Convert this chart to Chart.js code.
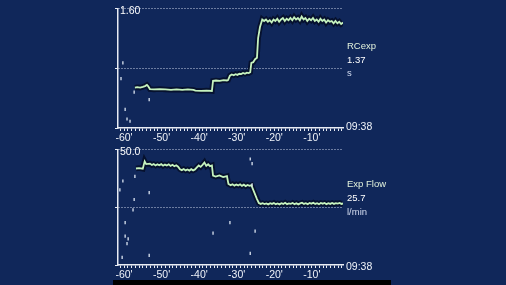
<!DOCTYPE html>
<html>
<head>
<meta charset="utf-8">
<script src="https://cdn.jsdelivr.net/npm/chart.js@4/dist/chart.umd.min.js"></script>
<style>
  html, body { margin: 0; padding: 0; background: #10275a; width: 506px; height: 285px; overflow: hidden; }
  canvas { position: absolute; left: 0; }
  .lbl { position: absolute; left: 347px; font-family: "Liberation Sans", Arial, sans-serif; font-size: 9.5px; line-height: 1; white-space: nowrap; }
  .hora { position: absolute; left: 346px; font-family: "Liberation Sans", Arial, sans-serif; font-size: 10.5px; line-height: 1; color: #eef2f8; }
  #faixa { position: absolute; left: 113px; top: 280px; width: 278px; height: 5px; background: #000; }
</style>
</head>
<body>
<canvas id="graficoRC" width="506" height="142" style="top:0"></canvas>
<canvas id="graficoFluxo" width="506" height="138" style="top:141px"></canvas>

<div class="lbl" style="top:41px;color:#e2f2dc">RCexp</div>
<div class="lbl" style="top:54.5px;color:#ffffff">1.37</div>
<div class="lbl" style="top:68px;color:#d4dcf0">s</div>
<div class="hora" style="top:120.5px">09:38</div>

<div class="lbl" style="top:179px;color:#e2f2dc">Exp Flow</div>
<div class="lbl" style="top:192.5px;color:#ffffff">25.7</div>
<div class="lbl" style="top:207px;color:#d4dcf0">l/min</div>
<div class="hora" style="top:260.5px">09:38</div>
<div id="faixa"></div>

<script>
// eixo do tempo (minutos antes de 09:38)
const tempoMin = -61.6;
const tempoMax = -1.7;

// RCexp (s)
const rcTempo = [-57.1, -56.5, -55.7, -55, -54.4, -53.9, -53.6, -53.1, -52, -50.5, -49, -47.5, -46, -44.5, -43, -41.5, -41, -39.5, -38, -36.6,
  -36.3, -35.5, -34.5, -33.5, -32.6, -32.3, -31.8, -31.3, -30.8, -30.3, -29.8, -29.3, -28.8, -28.3, -27.8, -27.3, -26.8, -26.4,
  -26.1, -25.6, -25.1, -24.6, -24.3, -23.8, -23.2,
  -22.7, -22.2, -21.7, -21.2, -20.7, -20.2, -19.7, -19.2, -18.7, -18.2, -17.7, -17.2, -16.7, -16.2, -15.7, -15.2, -14.7, -14.2,
  -13.7, -13.2, -12.7, -12.2, -11.7, -11.2, -10.7, -10.2, -9.7, -9.2, -8.7, -8.2, -7.7, -7.2, -6.7, -6.2, -5.7, -5.2, -4.7, -4.2,
  -3.7, -3.2, -2.7, -2.2, -1.7];
const rcValor = [0.54, 0.545, 0.54, 0.55, 0.56, 0.575, 0.56, 0.52, 0.515, 0.52, 0.515, 0.51, 0.515, 0.51, 0.515, 0.51, 0.50, 0.495, 0.50, 0.495,
  0.63, 0.635, 0.63, 0.64, 0.635, 0.64, 0.70, 0.715, 0.705, 0.72, 0.71, 0.725, 0.72, 0.735, 0.725, 0.74, 0.735, 0.745,
  0.87, 0.88, 0.92, 0.94, 1.20, 1.35, 1.45,
  1.43, 1.45, 1.42, 1.44, 1.41, 1.45, 1.43, 1.46, 1.42, 1.45, 1.47, 1.43, 1.46, 1.44, 1.47, 1.44, 1.48, 1.45,
  1.47, 1.44, 1.49, 1.45, 1.47, 1.43, 1.46, 1.44, 1.47, 1.43, 1.45, 1.42, 1.46, 1.43, 1.45, 1.41, 1.44, 1.42, 1.43, 1.40,
  1.43, 1.40, 1.42, 1.39, 1.41];
const rcPontosTempo = [-60.3, -60.8, -59.7, -59.2, -58.4, -57.3, -53.3];
const rcPontosValor = [0.87, 0.66, 0.25, 0.12, 0.09, 0.48, 0.38];

// Exp Flow (l/min)
const fluxoTempo = [-56.8, -56, -55, -54.5, -54.1, -53.1, -52.6, -52.1, -51.6, -51.1, -50.6, -50.1, -49.6, -49.1, -48.6, -48.1, -47.6, -47.1, -46.6, -46.1,
  -45.6, -45.1, -44.6, -44.1, -43.6, -43.1, -42.6, -42.1, -41.6, -41.1, -40.6, -40.1, -39.6, -39.1, -38.6, -38.1, -37.6, -37.1, -36.6,
  -36.3, -35.6, -34.6, -33.6, -32.6, -32.2, -31.6, -31.1, -30.6, -30.1, -29.6, -29.1, -28.6, -28.1, -27.6, -27.1, -26.6, -26.1,
  -24.6, -24.1,
  -23.6, -23.1, -22.6, -22.1, -21.6, -21.1, -20.6, -20.1, -19.6, -19.1, -18.6, -18.1, -17.6, -17.1, -16.6, -16.1, -15.6, -15.1,
  -14.6, -14.1, -13.6, -13.1, -12.6, -12.1, -11.6, -11.1, -10.6, -10.1, -9.6, -9.1, -8.6, -8.1, -7.6, -7.1, -6.6, -6.1, -5.6, -5.1,
  -4.6, -4.1, -3.6, -3.1, -2.6, -2.1, -1.7];
const fluxoValor = [41.7, 41.9, 41.6, 44.8, 43.6, 43.8, 43.2, 43.6, 43.0, 43.5, 43.1, 43.6, 42.9, 43.4, 43.0, 43.5, 42.8, 43.3, 42.7, 43.1,
  42.5, 41.4, 41.0, 41.5, 40.9, 41.3, 40.8, 41.4, 40.9, 41.3, 42.2, 43.0, 42.4, 43.3, 44.3, 42.8, 43.5, 42.7, 43.0,
  38.6, 38.2, 38.7, 38.0, 38.4, 35.0, 34.5, 34.9, 34.3, 34.8, 34.4, 34.9, 34.2, 34.7, 34.1, 34.6, 34.2, 34.5,
  28.5, 26.8,
  26.4, 26.7, 26.3, 26.6, 26.2, 26.7, 26.4, 26.8, 26.3, 26.6, 26.2, 26.7, 26.4, 26.9, 26.3, 26.6, 26.4, 26.8,
  26.3, 26.7, 26.2, 26.6, 26.9, 26.4, 26.7, 26.3, 26.8, 26.5, 26.9, 26.4, 26.7, 26.3, 26.8, 26.5, 26.8, 26.3, 26.7, 26.4,
  26.8, 26.4, 26.7, 26.5, 26.8, 26.4, 26.6];
const fluxoPontosTempo = [-61.1, -60.3, -57.3, -57.6, -59.7, -59.7, -58.9, -59.2, -60.5, -53.3, -53.3, -57.1, -36.3, -31.8, -26.4, -25.9, -25.1, -26.4, -25.9];
const fluxoPontosValor = [32.5, 36.3, 28.3, 23.8, 18.3, 12.5, 11.3, 9.2, 3.3, 31.3, 4.2, 38.3, 13.8, 18.3, 45.8, 43.8, 14.6, 5.0, 34.6];

// escalas verticais
const rcMax = 1.6, rcPasso = 0.8;
const fluxoMax = 50, fluxoPasso = 25;

function pares(xs, ys) {
  return xs.map((x, i) => ({ x: x, y: ys[i] }));
}

function criarGrafico(id, tempo, valor, pontosTempo, pontosValor, yMax, passo, casas) {
  const linha = pares(tempo, valor);
  const fonte = { family: 'Liberation Sans', size: 10.5 };
  return new Chart(document.getElementById(id).getContext('2d'), {
    type: 'line',
    data: {
      datasets: [
        { data: linha, borderColor: '#c6f3bf', borderWidth: 1.8, pointRadius: 0, tension: 0, order: 1 },
        { data: linha, borderColor: '#06112e', borderWidth: 5.5, pointRadius: 0, tension: 0, order: 2 },
        { data: pares(pontosTempo, pontosValor), showLine: false, pointStyle: 'line', rotation: 90,
          pointRadius: 1.6, pointBorderWidth: 1.3, borderColor: '#dde6f2', pointBorderColor: '#dde6f2', order: 0 }
      ]
    },
    options: {
      responsive: false,
      animation: false,
      devicePixelRatio: 1,
      layout: { padding: { top: 4, right: 163, left: 0, bottom: 0 } },
      plugins: { legend: { display: false }, tooltip: { enabled: false } },
      scales: {
        x: {
          type: 'linear', min: tempoMin, max: tempoMax,
          ticks: {
            stepSize: 1, autoSkip: false, maxRotation: 0, includeBounds: false, padding: 1,
            color: '#eef2f8', font: fonte,
            callback: v => Math.round(v) % 10 === 0 ? Math.round(v) + "'" : ''
          },
          grid: { drawOnChartArea: false, color: '#e8ecf4', tickLength: 3 },
          border: { color: '#e8ecf4', width: 1.5 },
          afterFit: s => { s.height = 14; }
        },
        y: {
          min: 0, max: yMax,
          ticks: {
            stepSize: passo, mirror: true, padding: 2, labelOffset: 3,
            color: '#ffffff', font: fonte,
            callback: v => Math.abs(v - yMax) < 1e-6 ? v.toFixed(casas) : ''
          },
          grid: {
            color: c => (c.tick && c.tick.value === 0) ? 'rgba(0,0,0,0)' : '#c9d3e6',
            tickColor: '#e8ecf4', tickLength: 3, lineWidth: 1
          },
          border: { color: '#e8ecf4', width: 1.5, dash: [1, 2] },
          afterFit: s => { s.width = 118; }
        }
      }
    }
  });
}

window.onload = function() {
  criarGrafico('graficoRC', rcTempo, rcValor, rcPontosTempo, rcPontosValor, rcMax, rcPasso, 2);
  criarGrafico('graficoFluxo', fluxoTempo, fluxoValor, fluxoPontosTempo, fluxoPontosValor, fluxoMax, fluxoPasso, 1);
};
</script>
</body>
</html>
